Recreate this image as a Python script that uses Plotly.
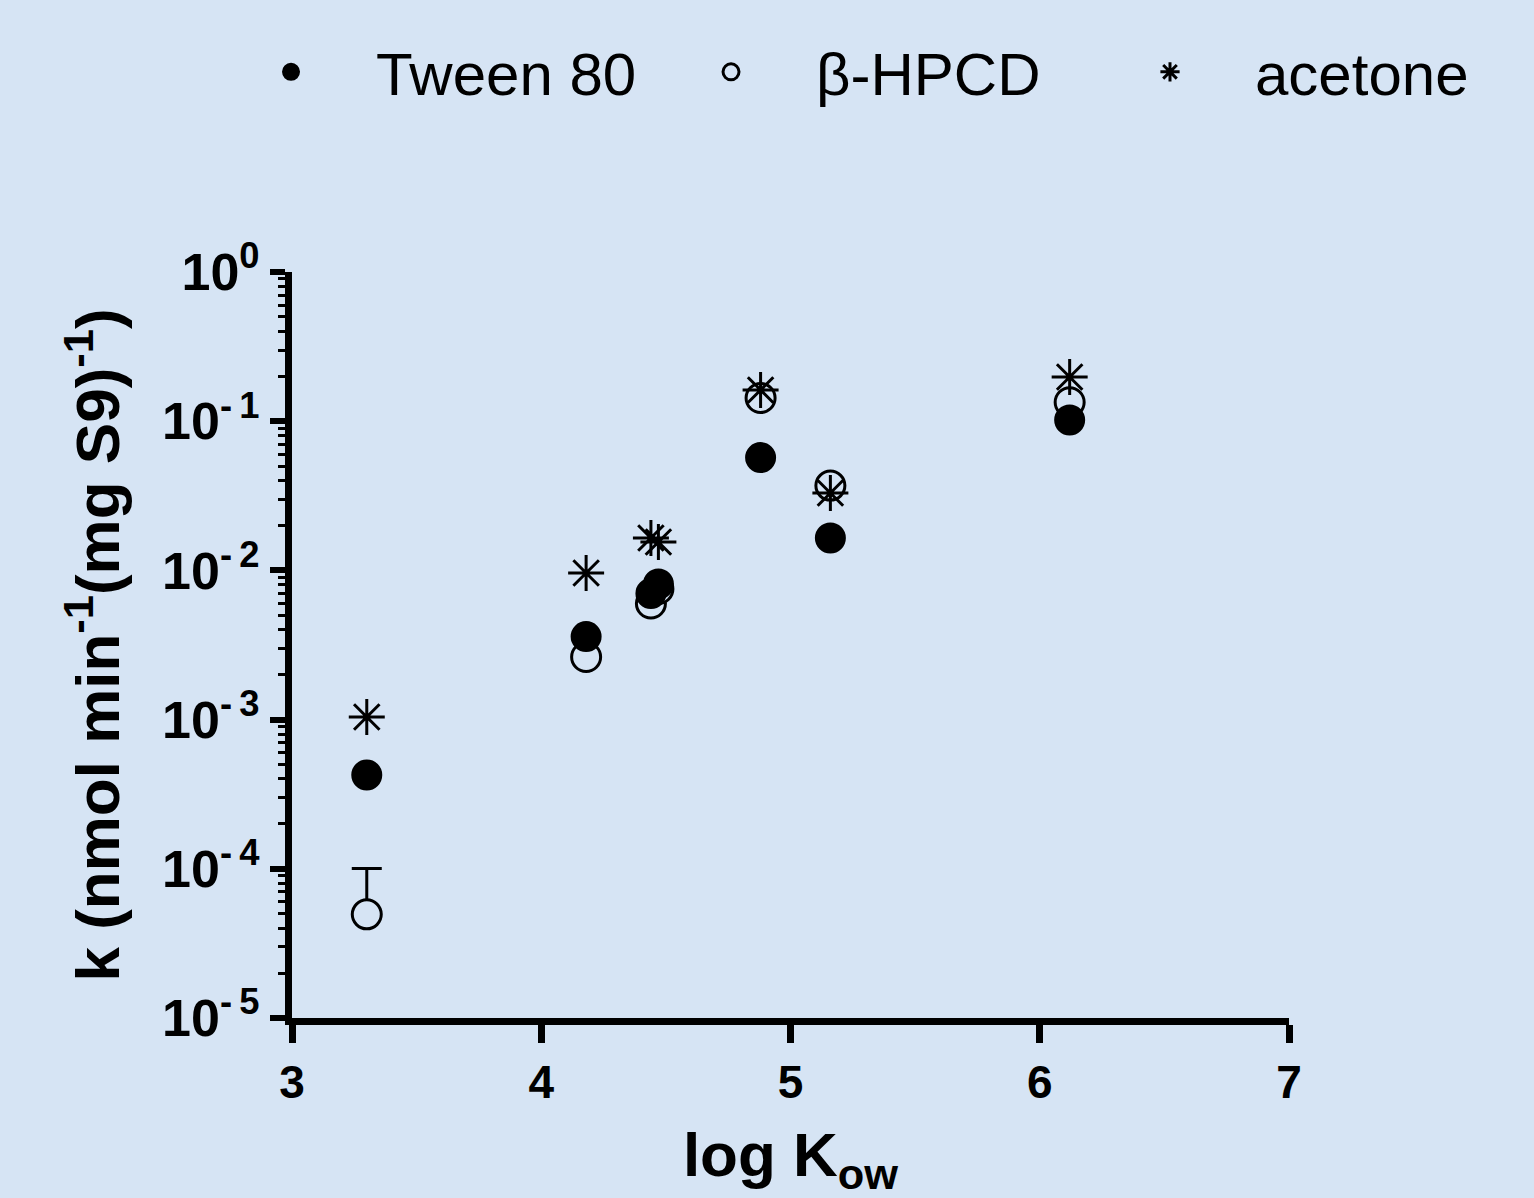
import plotly.graph_objects as go

# Data
log_kow = [3.30, 4.18, 4.44, 4.47, 4.88, 5.16, 6.12]
k_tween80 = [4.25e-4, 3.6e-3, 7.0e-3, 8.1e-3, 0.057, 0.0165, 0.102]
k_hpcd = [4.95e-5, 2.63e-3, 6.0e-3, 7.5e-3, 0.143, 0.037, 0.134]
hpcd_err_up = [5.1e-5, None, None, None, None, None, None]
hpcd_err_down = [0, None, None, None, None, None, None]
k_acetone = [1.04e-3, 9.6e-3, 0.0165, 0.0155, 0.162, 0.033, 0.198]

y_tickvals = [1e-5, 1e-4, 1e-3, 1e-2, 1e-1, 1e0]
y_ticktext = ["10<sup>-\u20095</sup>", "10<sup>-\u20094</sup>", "10<sup>-\u20093</sup>",
              "10<sup>-\u20092</sup>", "10<sup>-\u20091</sup>", "10<sup>0</sup>"]
x_tickvals = [3, 4, 5, 6, 7]

BG = "#d6e4f4"
FONT = "Liberation Sans, Arial, sans-serif"

fig = go.Figure()
# beta-HPCD first so filled circles overlay the rings
fig.add_trace(go.Scatter(
    x=log_kow, y=k_hpcd, mode="markers", name="\u03b2-HPCD", legendrank=2, legend="legend",
    marker=dict(symbol="circle", size=29, color=BG, line=dict(color="black", width=3)),
    error_y=dict(type="data", symmetric=False, array=hpcd_err_up,
                 arrayminus=hpcd_err_down, color="black", thickness=3, width=15),
    cliponaxis=False))
fig.add_trace(go.Scatter(
    x=log_kow, y=k_tween80, mode="markers", name="Tween 80", legendrank=1, legend="legend",
    marker=dict(symbol="circle", size=29, color="black", line=dict(color="black", width=2)),
    cliponaxis=False))
fig.add_trace(go.Scatter(
    x=log_kow, y=k_acetone, mode="markers", name="acetone", legendrank=3, legend="legend2",
    marker=dict(symbol="asterisk-open", size=30, color="black", line=dict(color="black", width=3)),
    cliponaxis=False))

legend_common = dict(orientation="h", xref="container", yref="container",
                     y=0.978, xanchor="left", yanchor="top",
                     font=dict(size=60, family=FONT, color="black"),
                     bgcolor="rgba(0,0,0,0)", itemwidth=160,
                     entrywidth=265, entrywidthmode="pixels", traceorder="normal")

fig.update_layout(
    width=1534, height=1198,
    paper_bgcolor=BG, plot_bgcolor=BG,
    margin=dict(l=292, r=245, t=272, b=180, autoexpand=False),
    font=dict(family=FONT, color="black"),
    showlegend=True,
    legend=dict(x=0.1343, **legend_common),
    legend2=dict(x=0.7073, **legend_common),
    xaxis=dict(range=[3, 7], tickvals=x_tickvals, ticks="outside", ticklen=18, tickwidth=7,
               tickcolor="black", showline=True, linecolor="black", linewidth=7,
               showgrid=False, zeroline=False,
               tickfont=dict(size=46, family=FONT, color="black", weight="bold"),
               title=dict(text="<b>log K<sub>ow</sub></b>", font=dict(size=62, family=FONT),
                          standoff=30)),
    yaxis=dict(type="log", range=[-5, 0], tickvals=y_tickvals, ticktext=y_ticktext,
               ticks="outside", ticklen=15, tickwidth=6, tickcolor="black",
               showline=True, linecolor="black", linewidth=7,
               showgrid=False, zeroline=False,
               minor=dict(ticks="outside", ticklen=7, tickwidth=3, tickcolor="black",
                          dtick="D1", showgrid=False),
               tickfont=dict(size=52, family=FONT, color="black", weight="bold"),
               title=dict(text="<b>k (nmol min<sup>-1</sup>(mg S9)<sup>-1</sup>)</b>",
                          font=dict(size=62, family=FONT), standoff=25)),
)

fig.write_html("out.html", config={"displayModeBar": False},
               post_script="document.body.style.margin='0';document.body.style.background='%s';" % BG)
